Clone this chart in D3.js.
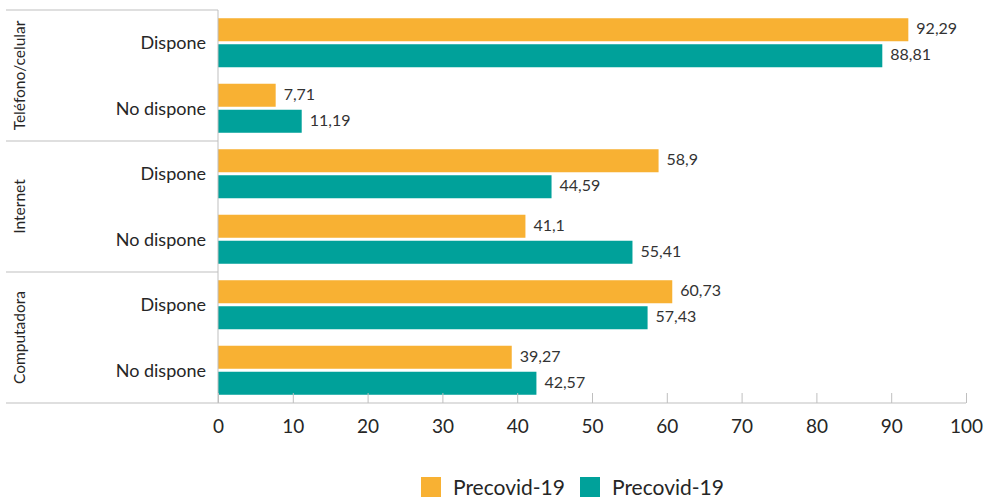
<!DOCTYPE html>
<html><head><meta charset="utf-8">
<script src="https://cdn.jsdelivr.net/npm/d3@7"></script>
<style>body{margin:0;background:#fff}svg{display:block;font-family:Lato,"Open Sans",sans-serif}</style>
</head><body><svg id="c" width="991" height="499"></svg>
<script>
const groups = ["Teléfono/celular", "Internet", "Computadora"];
const subcats = ["Dispone", "No dispone"];
const seriesNames = ["Precovid-19", "Precovid-19"];
const seriesA = [92.29, 7.71, 58.9, 41.1, 60.73, 39.27];
const seriesB = [88.81, 11.19, 44.59, 55.41, 57.43, 42.57];
const ticks = [0,10,20,30,40,50,60,70,80,90,100];
const colors = ["#F8B133", "#00A19A"];

const svg = d3.select("#c");
const x0 = 218, x1 = 966, yTop = 10, yBot = 403, left = 6;
const x = d3.scaleLinear().domain([0,100]).range([x0,x1]);
const rows = [];
groups.forEach((g,gi)=>subcats.forEach((s,si)=>rows.push({g,s,key:gi+"-"+si,a:seriesA[gi*2+si],b:seriesB[gi*2+si]})));
const y = d3.scaleBand().domain(rows.map(r=>r.key)).range([yTop,yBot]);
const yi = d3.scaleBand().domain([0,1]).range([0,y.bandwidth()]).paddingInner(0.115).paddingOuter(0.317);
const fmt = v => String(v).replace(".", ",");

// bars
rows.forEach(r=>{
  [r.a, r.b].forEach((v,i)=>{
    svg.append("rect").attr("x",x(0)).attr("y",y(r.key)+yi(i))
      .attr("width",x(v)-x(0)).attr("height",yi.bandwidth()).attr("fill",colors[i]);
    svg.append("text").attr("x",x(v)+8).attr("y",y(r.key)+yi(i)+yi.bandwidth()/2-1)
      .attr("dy","0.35em").attr("font-size",16).attr("fill","#333").text(fmt(v));
  });
  svg.append("text").attr("x",206).attr("y",y(r.key)+y.bandwidth()/2).attr("dy","0.35em")
    .attr("text-anchor","end").attr("font-size",18).attr("fill","#262626").text(r.s);
});

// axis
const ax = svg.append("g").attr("transform",`translate(0,${yBot})`)
  .call(d3.axisBottom(x).tickValues(ticks).tickSize(-10).tickPadding(17).tickFormat(d=>d));
ax.select(".domain").remove();
ax.selectAll(".tick line").attr("stroke","#bfbfbf");
ax.selectAll(".tick text").attr("font-size",19).attr("fill","#262626").attr("font-family","Lato,'Open Sans',sans-serif");
svg.append("line").attr("x1",left).attr("x2",x1).attr("y1",yBot).attr("y2",yBot).attr("stroke","#bfbfbf");
svg.append("line").attr("x1",x0).attr("x2",x0).attr("y1",yTop).attr("y2",yBot).attr("stroke","#bfbfbf");

// group separators and labels
groups.forEach((g,gi)=>{
  const top = y(gi+"-0"), bot = y(gi+"-1")+y.bandwidth();
  svg.append("line").attr("x1",left).attr("x2",x0).attr("y1",top).attr("y2",top).attr("stroke","#bfbfbf");
  svg.append("text").attr("transform",`translate(20,${(top+bot)/2}) rotate(-90)`)
    .attr("text-anchor","middle").attr("dy","0.35em").attr("font-size",15.5).attr("fill","#262626").text(g);
});

// legend
const lg = [{x:421,c:colors[0],t:seriesNames[0]},{x:580,c:colors[1],t:seriesNames[1]}];
lg.forEach(l=>{
  svg.append("rect").attr("x",l.x).attr("y",477).attr("width",20).attr("height",20).attr("fill",l.c);
  svg.append("text").attr("x",l.x+32).attr("y",488).attr("dy","0.35em").attr("font-size",21).attr("fill","#262626").text(l.t);
});
</script></body></html>
